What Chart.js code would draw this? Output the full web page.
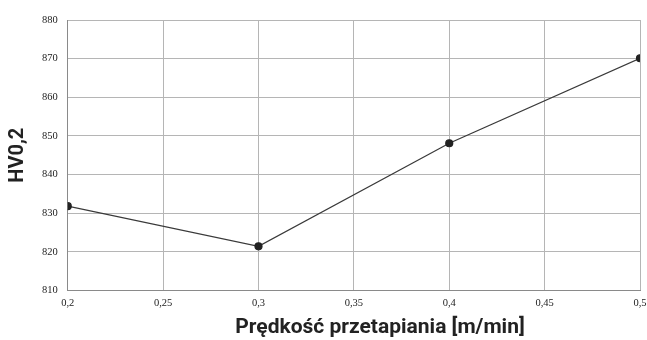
<!DOCTYPE html>
<html>
<head>
<meta charset="utf-8">
<script src="https://cdn.jsdelivr.net/npm/chart.js@4.4.1/dist/chart.umd.min.js"></script>
<style>
  html, body { margin: 0; padding: 0; background: #fff; }
  #wrap { width: 647px; height: 340px; }
</style>
</head>
<body>
<div id="wrap"><canvas id="hvChart"></canvas></div>
<script>
// Dane
const speeds = [0.2, 0.3, 0.4, 0.5];
const hardness = [831.8, 821.4, 848.1, 870.1];
const yTicks = [810, 820, 830, 840, 850, 860, 870, 880];
const xTicks = [0.2, 0.25, 0.3, 0.35, 0.4, 0.45, 0.5];
const xTitle = 'Prędkość przetapiania [m/min]';
const yTitle = 'HV0,2';

const tickFont = { family: "'Liberation Serif', 'DejaVu Serif', serif", size: 10.5 };
const titleFont = { family: 'Roboto', size: 20, weight: 'bold' };

// Tytuł osi X jest przesunięty w prawo względem środka wykresu
const xTitlePlugin = {
    id: 'xTitle',
    afterDraw(chart) {
        const c = chart.ctx;
        c.save();
        c.font = 'bold 21px Roboto';
        c.fillStyle = '#222';
        c.textAlign = 'center';
        c.textBaseline = 'alphabetic';
        c.fillText(xTitle, 380, 333);
        c.restore();
    }
};

const ctx = document.getElementById('hvChart').getContext('2d');
new Chart(ctx, {
    type: 'line',
    data: {
        datasets: [{
            data: speeds.map((s, i) => ({ x: s, y: hardness[i] })),
            borderColor: '#3a3a3a',
            borderWidth: 1.2,
            pointBackgroundColor: '#222',
            pointBorderColor: '#222',
            pointRadius: 3.5,
            tension: 0
        }]
    },
    plugins: [xTitlePlugin],
    options: {
        responsive: true,
        maintainAspectRatio: false,
        animation: false,
        layout: { padding: { left: 6, right: 7, top: 20, bottom: 23 } },
        plugins: { legend: { display: false }, tooltip: { enabled: false } },
        scales: {
            x: {
                type: 'linear',
                min: 0.2,
                max: 0.5,
                afterBuildTicks: axis => { axis.ticks = xTicks.map(v => ({ value: v })); },
                afterFit: axis => { axis.paddingLeft = 0; axis.paddingRight = 0; },
                ticks: {
                    color: '#222',
                    font: tickFont,
                    padding: 7,
                    maxRotation: 0,
                    callback: v => String(Math.round(v * 100) / 100).replace('.', ',')
                },
                grid: { color: '#b5b5b5', drawTicks: false },
                border: { color: '#8a8a8a' }
            },
            y: {
                min: 810,
                max: 880,
                afterBuildTicks: axis => { axis.ticks = yTicks.map(v => ({ value: v })); },
                ticks: { color: '#222', font: tickFont, padding: 10 },
                grid: { color: '#b5b5b5', drawTicks: false },
                border: { color: '#8a8a8a' },
                title: { display: true, text: yTitle, color: '#222', font: titleFont, padding: { top: 0, bottom: 2 } }
            }
        }
    }
});
</script>
</body>
</html>
